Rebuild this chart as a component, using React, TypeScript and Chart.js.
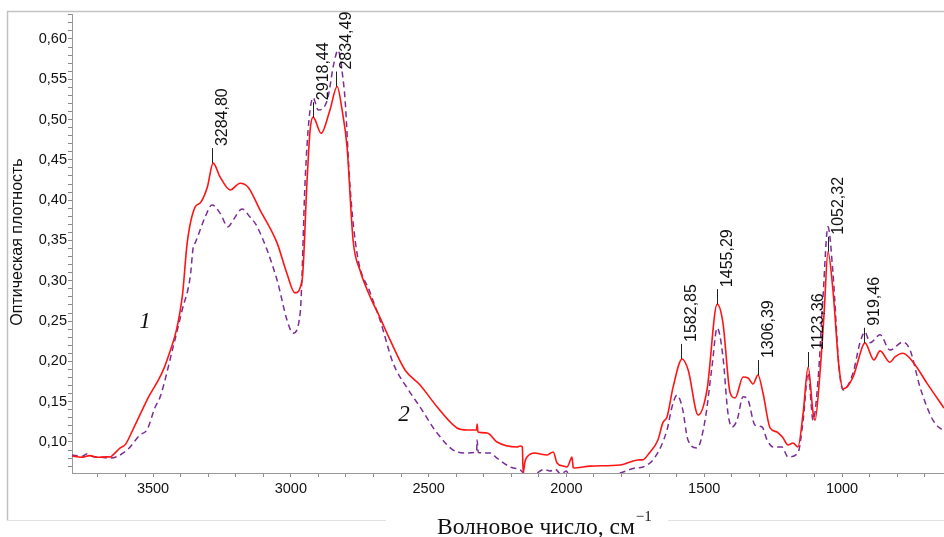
import React, { useEffect, useRef } from "react";
import { Chart, registerables } from "chart.js";

Chart.register(...registerables);

// ---- Data ----
const redWavenumber = [
  3794, 3760, 3730, 3700, 3670, 3656, 3645, 3619, 3600, 3572, 3522, 3449, 3394, 3376, 3347, 3329, 3303, 3282,
  3257, 3220, 3184, 3155, 3112, 3050, 3015, 2985, 2959, 2941, 2930, 2919, 2890, 2858, 2832, 2814, 2796, 2774,
  2749, 2712, 2676, 2640, 2585, 2531, 2469, 2397, 2360, 2326, 2324, 2321, 2288, 2252, 2179, 2168, 2160, 2157,
  2150, 2143, 2114, 2095, 2070, 2048, 2034, 2010, 1998, 1985, 1980, 1975, 1972, 1914, 1805, 1740, 1722, 1700,
  1668, 1650, 1635, 1613, 1580, 1558, 1522, 1490, 1453, 1432, 1406, 1388, 1359, 1341, 1323, 1305, 1287, 1261,
  1236, 1214, 1196, 1178, 1160, 1141, 1123, 1105, 1098, 1080, 1065, 1051, 1033, 1011, 996, 960, 924, 917, 884,
  862, 826, 808, 779, 742, 692, 630,
];
const redAbsorbance = [
  0.0826, 0.081, 0.083, 0.081, 0.0815, 0.0814, 0.084, 0.0926, 0.097, 0.116, 0.152, 0.2017, 0.28, 0.347, 0.3916,
  0.3965, 0.416, 0.446, 0.429, 0.4127, 0.421, 0.416, 0.388, 0.347, 0.31, 0.285, 0.301, 0.425, 0.487, 0.503,
  0.483, 0.512, 0.541, 0.512, 0.466, 0.35, 0.313, 0.28, 0.254, 0.2266, 0.189, 0.1707, 0.1434, 0.1174, 0.1149,
  0.115, 0.1223, 0.1124, 0.1112, 0.1, 0.0938, 0.095, 0.094, 0.062, 0.076, 0.0814, 0.0864, 0.085, 0.0839, 0.0876,
  0.074, 0.07, 0.069, 0.078, 0.0814, 0.068, 0.0677, 0.07, 0.0715, 0.0777, 0.078, 0.086, 0.1025, 0.124, 0.131,
  0.168, 0.203, 0.189, 0.1335, 0.1645, 0.271, 0.2476, 0.161, 0.1546, 0.1806, 0.1794, 0.172, 0.183, 0.161,
  0.1174, 0.1124, 0.105, 0.0963, 0.0988, 0.0938, 0.136, 0.193, 0.136, 0.127, 0.1856, 0.26, 0.336, 0.2886,
  0.193, 0.1658, 0.1806, 0.22, 0.223, 0.2017, 0.213, 0.199, 0.2055, 0.21, 0.199, 0.173, 0.142,
];

const purpleWavenumber = [
  3794, 3760, 3740, 3720, 3690, 3656, 3594, 3547, 3522, 3492, 3474, 3427, 3394, 3365, 3354, 3347, 3311, 3286,
  3257, 3228, 3209, 3177, 3148, 3122, 3050, 3014, 2992, 2966, 2948, 2934, 2919, 2901, 2868, 2843, 2829, 2810,
  2803, 2785, 2760, 2712, 2676, 2629, 2578, 2531, 2469, 2397, 2360, 2326, 2324, 2320, 2277, 2252, 2204, 2168,
  2150, 2120, 2100, 2080, 2060, 2040, 2020, 2000, 1990, 1950, 1900, 1850, 1805, 1751, 1722, 1678, 1635, 1617,
  1599, 1580, 1559, 1526, 1497, 1472, 1453, 1432, 1414, 1399, 1381, 1359, 1341, 1316, 1290, 1272, 1250, 1218,
  1196, 1160, 1141, 1123, 1105, 1087, 1069, 1051, 1033, 1011, 996, 960, 935, 917, 898, 862, 826, 779, 753, 717,
  670, 630,
];
const purpleAbsorbance = [
  0.0839, 0.082, 0.085, 0.082, 0.081, 0.08, 0.09, 0.1087, 0.115, 0.1434, 0.156, 0.218, 0.264, 0.305, 0.342,
  0.347, 0.379, 0.394, 0.384, 0.367, 0.3755, 0.389, 0.379, 0.367, 0.301, 0.2514, 0.235, 0.26, 0.425, 0.5, 0.527,
  0.512, 0.524, 0.571, 0.586, 0.549, 0.524, 0.416, 0.3345, 0.285, 0.251, 0.198, 0.167, 0.1434, 0.111, 0.0876,
  0.0864, 0.0876, 0.1025, 0.087, 0.0864, 0.08, 0.069, 0.0653, 0.06, 0.058, 0.063, 0.066, 0.064, 0.066, 0.06,
  0.064, 0.058, 0.056, 0.057, 0.059, 0.0615, 0.0677, 0.069, 0.0814, 0.115, 0.1434, 0.158, 0.1434, 0.1025,
  0.0926, 0.127, 0.193, 0.2414, 0.2055, 0.136, 0.1186, 0.127, 0.156, 0.152, 0.121, 0.1186, 0.1025, 0.0938,
  0.0938, 0.0814, 0.0864, 0.127, 0.1856, 0.127, 0.177, 0.28, 0.367, 0.31, 0.193, 0.1645, 0.1856, 0.223, 0.2365,
  0.223, 0.233, 0.214, 0.224, 0.214, 0.168, 0.127, 0.113,
];

const peakWavenumbers = [3284.8, 2918.44, 2834.49, 1582.85, 1455.29, 1306.39, 1123.36, 1052.32, 919.46];
const peakAbsorbance = [0.446, 0.503, 0.541, 0.203, 0.271, 0.183, 0.193, 0.336, 0.223];
const peakLabels = ["3284,80", "2918,44", "2834,49", "1582,85", "1455,29", "1306,39", "1123,36", "1052,32", "919,46"];

const xMajorTicks = [3500, 3000, 2500, 2000, 1500, 1000];
const xTickLabels = ["3500", "3000", "2500", "2000", "1500", "1000"];
const yMajorTicks = [0.1, 0.15, 0.2, 0.25, 0.3, 0.35, 0.4, 0.45, 0.5, 0.55, 0.6];
const yTickLabels = ["0,10", "0,15", "0,20", "0,25", "0,30", "0,35", "0,40", "0,45", "0,50", "0,55", "0,60"];

const curveLabels = ["1", "2"];
const curveLabelWavenumber = [3529, 2589];
const curveLabelAbsorbance = [0.249, 0.1335];

const xTitle = "Волновое число, см";
const xTitleSup = "−1";
const yTitle = "Оптическая плотность";

const SANS = '"Liberation Sans", Arial, sans-serif';
const SERIF = '"Liberation Serif", "Times New Roman", serif';

const overlayPlugin = {
  id: "overlay",
  afterDraw(chart: any) {
    const { ctx, scales } = chart;
    const xs = scales.x;
    const ys = scales.y;
    ctx.save();
    // outer frame
    ctx.strokeStyle = "#c2c2c2";
    ctx.lineWidth = 1.5;
    ctx.beginPath();
    ctx.moveTo(7.5, 520.5);
    ctx.lineTo(7.5, 11.5);
    ctx.lineTo(944, 11.5);
    ctx.stroke();
    ctx.strokeStyle = "#e2e2e2";
    ctx.lineWidth = 1;
    ctx.beginPath();
    ctx.moveTo(7.5, 520.5);
    ctx.lineTo(386, 520.5);
    ctx.moveTo(668, 520.5);
    ctx.lineTo(944, 520.5);
    ctx.stroke();

    // y title
    ctx.save();
    ctx.fillStyle = "#111";
    ctx.font = "16px " + SANS;
    ctx.translate(18, 242);
    ctx.rotate(-Math.PI / 2);
    ctx.textAlign = "center";
    ctx.textBaseline = "middle";
    ctx.fillText(yTitle, 0, 0);
    ctx.restore();

    // x title
    ctx.fillStyle = "#111";
    ctx.font = "23.5px " + SERIF;
    ctx.textAlign = "left";
    ctx.textBaseline = "alphabetic";
    const w = ctx.measureText(xTitle).width;
    const x0 = 437;
    ctx.fillText(xTitle, x0, 534);
    ctx.font = "15px " + SERIF;
    ctx.fillText(xTitleSup, x0 + w + 1, 521);

    // curve labels
    ctx.font = "italic 23px " + SERIF;
    ctx.textAlign = "center";
    ctx.textBaseline = "middle";
    curveLabels.forEach((t, i) => {
      ctx.fillText(t, xs.getPixelForValue(curveLabelWavenumber[i]), ys.getPixelForValue(curveLabelAbsorbance[i]));
    });

    // peak markers
    peakWavenumbers.forEach((wn, i) => {
      const px = Math.round(xs.getPixelForValue(wn)) + 0.5;
      const py = ys.getPixelForValue(peakAbsorbance[i]);
      ctx.strokeStyle = "#222";
      ctx.lineWidth = 1;
      ctx.beginPath();
      ctx.moveTo(px, py);
      ctx.lineTo(px, py - 15);
      ctx.stroke();
      ctx.save();
      ctx.translate(px, py - 16);
      ctx.rotate(-Math.PI / 2);
      ctx.fillStyle = "#111";
      ctx.font = "16px " + SANS;
      ctx.textAlign = "left";
      ctx.textBaseline = "middle";
      ctx.fillText(peakLabels[i], 1, 10);
      ctx.restore();
    });
    ctx.restore();
  },
};

export default function App() {
  const canvasRef = useRef<HTMLCanvasElement | null>(null);

  useEffect(() => {
    const canvas = canvasRef.current;
    if (!canvas) return;
    const purpleData = purpleWavenumber.map((x, i) => ({ x, y: purpleAbsorbance[i] }));
    const redData = redWavenumber.map((x, i) => ({ x, y: redAbsorbance[i] }));

    const chart = new Chart(canvas, {
      type: "line",
      data: {
        datasets: [
          {
            label: "1",
            data: redData,
            borderColor: "#ff1414",
            borderWidth: 1.6,
            pointRadius: 0,
            fill: false,
            cubicInterpolationMode: "monotone",
          },
          {
            label: "2",
            data: purpleData,
            borderColor: "#7a2e96",
            borderWidth: 1.5,
            borderDash: [6, 4],
            pointRadius: 0,
            fill: false,
            cubicInterpolationMode: "monotone",
          },
        ],
      },
      options: {
        animation: false,
        responsive: false,
        devicePixelRatio: 1,
        layout: { padding: { top: 14, right: 0, left: 0, bottom: 0 } },
        plugins: { legend: { display: false }, tooltip: { enabled: false }, title: { display: false } },
        scales: {
          x: {
            type: "linear",
            reverse: true,
            min: 630,
            max: 3794,
            afterFit: (s: any) => {
              s.height = 64;
            },
            border: { display: true, color: "#9a9a9a", width: 1 },
            grid: { drawOnChartArea: false, drawTicks: true, tickLength: 4, color: "#8a8a8a" },
            ticks: {
              stepSize: 100,
              includeBounds: false,
              autoSkip: false,
              maxRotation: 0,
              minRotation: 0,
              padding: 3,
              color: "#111",
              font: { family: SANS, size: 14.5 },
              callback: (v: any) => {
                const idx = xMajorTicks.indexOf(Math.round(Number(v)));
                return idx >= 0 ? xTickLabels[idx] : "";
              },
            },
          },
          y: {
            type: "linear",
            min: 0.0615,
            max: 0.631,
            afterFit: (s: any) => {
              s.width = 72;
            },
            border: { display: true, color: "#9a9a9a", width: 1 },
            grid: { drawOnChartArea: false, drawTicks: true, tickLength: 4, color: "#8a8a8a" },
            ticks: {
              stepSize: 0.01,
              includeBounds: false,
              autoSkip: false,
              padding: 1,
              color: "#111",
              font: { family: SANS, size: 14.5 },
              callback: (v: any) => {
                const n = Math.round(Number(v) * 100);
                const idx = yMajorTicks.findIndex((t) => Math.round(t * 100) === n);
                return idx >= 0 ? yTickLabels[idx] : "";
              },
            },
          },
        },
      },
      plugins: [overlayPlugin],
    });
    return () => chart.destroy();
  }, []);

  return (
    <div style={{ position: "fixed", left: 0, top: 0, width: 944, height: 537, background: "#fff" }}>
      <canvas ref={canvasRef} width={944} height={537} style={{ display: "block" }} />
    </div>
  );
}
